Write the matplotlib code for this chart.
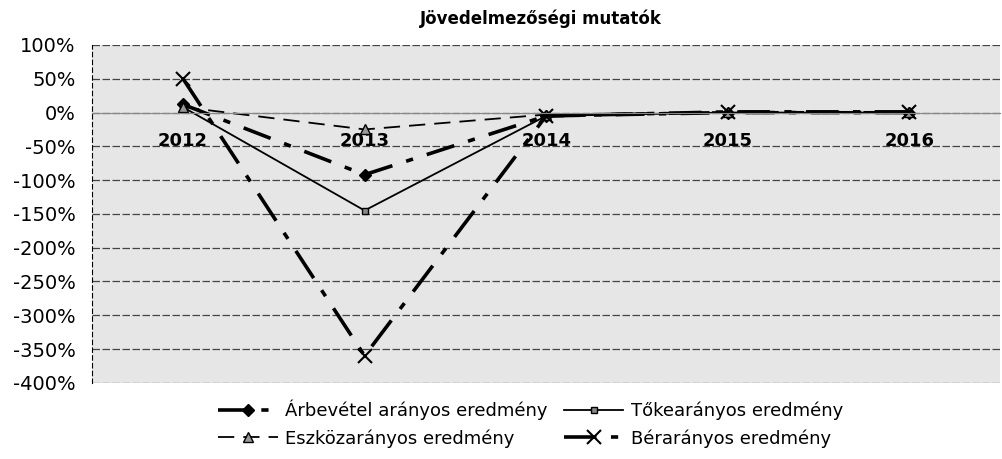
import matplotlib
matplotlib.use('Agg')
import matplotlib.pyplot as plt
from matplotlib.ticker import FuncFormatter

plt.rcParams['font.family'] = ['DejaVu Sans']

years = ['2012', '2013', '2014', '2015', '2016']
arbevetel = [12, -92, -5, 0, 0]
tokearanyos = [8, -145, -5, 0, 0]
eszkozaranyos = [8, -25, -3, 1, 1]
berar = [50, -360, -5, 1, 1]

fig = plt.figure(figsize=(10.03, 4.59), dpi=100)
ax = fig.add_axes([0.092, 0.166, 0.905, 0.736])
ax.set_facecolor('#e6e6e6')

x = list(range(len(years)))
l1, = ax.plot(x, arbevetel, color='black', lw=2.6, dashes=(8, 4, 2, 4),
              marker='D', ms=6, label='Árbevétel arányos eredmény')
l2, = ax.plot(x, tokearanyos, color='black', lw=1.3, linestyle='-',
              marker='s', ms=5, mfc='#888888', label='Tőkearányos eredmény')
l3, = ax.plot(x, eszkozaranyos, color='black', lw=1.3, dashes=(9, 5),
              marker='^', ms=7, mfc='#999999', label='Eszközarányos eredmény')
l4, = ax.plot(x, berar, color='black', lw=2.6, dashes=(9, 4, 2, 4),
              marker='x', ms=10, mew=1.5, label='Bérarányos eredmény')

ax.set_xlim(-0.5, 4.5)
ax.set_ylim(-400, 100)
ax.set_yticks(range(-400, 101, 50))
ax.yaxis.set_major_formatter(FuncFormatter(lambda v, p: f'{int(v)}%'))
ax.tick_params(axis='y', labelsize=14, length=0, pad=12)
ax.grid(axis='y', color='#444444', lw=0.9, dashes=(6, 2))

# category labels sit on the 0% line, like the original sheet
ax.spines['bottom'].set_position(('data', 0))
ax.spines['bottom'].set_color('#888888')
ax.set_xticks(x)
ax.set_xticklabels(years, fontsize=13, fontweight='bold')
ax.tick_params(axis='x', length=0, pad=14)
ax.spines['top'].set_visible(False)
ax.spines['right'].set_visible(False)
ax.spines['left'].set_linestyle((0, (4, 3)))
ax.spines['left'].set_linewidth(0.8)

fig.text(0.539, 0.96, 'Jövedelmezőségi mutatók', ha='center', va='center',
         fontsize=12, fontweight='bold')

fig.legend([l1, l3, l2, l4], [l.get_label() for l in (l1, l3, l2, l4)],
           loc='center', bbox_to_anchor=(0.529, 0.077), ncol=2,
           frameon=False, fontsize=13, handlelength=3.3, columnspacing=0.9,
           labelspacing=0.5, handletextpad=0.4, borderpad=0)

fig.savefig('out.png', dpi=100)
